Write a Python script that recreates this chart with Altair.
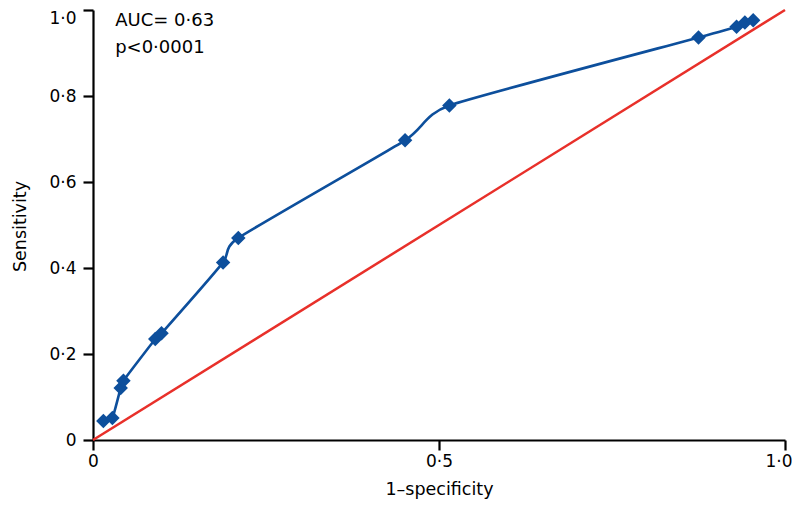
import altair as alt
import pandas as pd

# ROC curve points
fpr = [0.015, 0.028, 0.040, 0.044, 0.090, 0.099, 0.188, 0.210, 0.451, 0.515, 0.875, 0.930, 0.942, 0.954]
tpr = [0.044, 0.051, 0.121, 0.138, 0.235, 0.248, 0.413, 0.470, 0.697, 0.778, 0.936, 0.961, 0.971, 0.976]

# reference (chance) diagonal
diag_x = [0.0, 1.0]
diag_y = [0.0, 1.0]

# annotation
notes = ["AUC= 0·63", "p<0·0001"]
note_x = [0.032, 0.032]
note_y = [0.963, 0.900]

x_ticks = [0, 0.5, 1.0]
y_ticks = [0, 0.2, 0.4, 0.6, 0.8, 1.0]

FONT = "DejaVu Sans"
BLUE = "#0d4f9c"
RED = "#e8302a"

roc = pd.DataFrame({"x": fpr, "y": tpr})
diag = pd.DataFrame({"x": diag_x, "y": diag_y})
ann = pd.DataFrame({"x": note_x, "y": note_y, "t": notes})

label_expr = "datum.value == 0 ? '0' : replace(format(datum.value, '.1f'), '.', '·')"

xscale = alt.Scale(domain=[0, 1], nice=False, zero=False)
yscale = alt.Scale(domain=[0, 1], nice=False, zero=False)

xaxis = alt.Axis(
    title="1–specificity", values=x_ticks, labelExpr=label_expr,
    grid=False, domainColor="black", domainWidth=2.2, tickColor="black",
    tickWidth=2.2, tickSize=10, labelPadding=3, labelFontSize=17,
    labelFlush=False,
    labelAlign=alt.condition("datum.value == 1", alt.value("right"), alt.value("center")),
    labelOffset=alt.condition("datum.value == 1", alt.value(7), alt.value(0)),
    titleFontSize=17.5, titleFontWeight="normal", labelFont=FONT, titleFont=FONT,
    labelColor="black", titleColor="black", titleY=54, titleBaseline="alphabetic",
)
yaxis = alt.Axis(
    title="Sensitivity", values=y_ticks, labelExpr=label_expr,
    grid=False, domainColor="black", domainWidth=2.2, tickColor="black",
    tickWidth=2.2, tickSize=10, labelPadding=7, labelFontSize=17,
    titleFontSize=17.5, titleFontWeight="normal", labelFont=FONT, titleFont=FONT,
    labelColor="black", titleColor="black", titleX=-68, titleY=216,
    titleBaseline="alphabetic", titleAngle=270,
    labelBaseline=alt.condition("datum.value == 1", alt.value("top"), alt.value("middle")),
)

diag_line = alt.Chart(diag).mark_line(color=RED, strokeWidth=2.5).encode(
    x=alt.X("x:Q", scale=xscale, axis=xaxis),
    y=alt.Y("y:Q", scale=yscale, axis=yaxis),
)

roc_line = alt.Chart(roc).mark_line(color=BLUE, strokeWidth=2.6, interpolate="cardinal", tension=0.5).encode(
    x=alt.X("x:Q", scale=xscale),
    y=alt.Y("y:Q", scale=yscale),
)

roc_pts = alt.Chart(roc).mark_point(shape="diamond", filled=True, color=BLUE, size=210, opacity=1).encode(
    x=alt.X("x:Q", scale=xscale),
    y=alt.Y("y:Q", scale=yscale),
)

text = alt.Chart(ann).mark_text(align="left", baseline="alphabetic", font=FONT, fontSize=18, color="black").encode(
    x=alt.X("x:Q", scale=xscale),
    y=alt.Y("y:Q", scale=yscale),
    text="t:N",
)

chart = alt.layer(diag_line, roc_line, roc_pts, text).properties(
    width=692, height=430,
    autosize=alt.AutoSizeParams(type="none"),
    padding={"left": 85, "top": 2, "right": 7, "bottom": 60},
    background="white",
).configure_view(stroke=None)

chart.save("out.html", embed_options={"renderer": "svg", "actions": False})
